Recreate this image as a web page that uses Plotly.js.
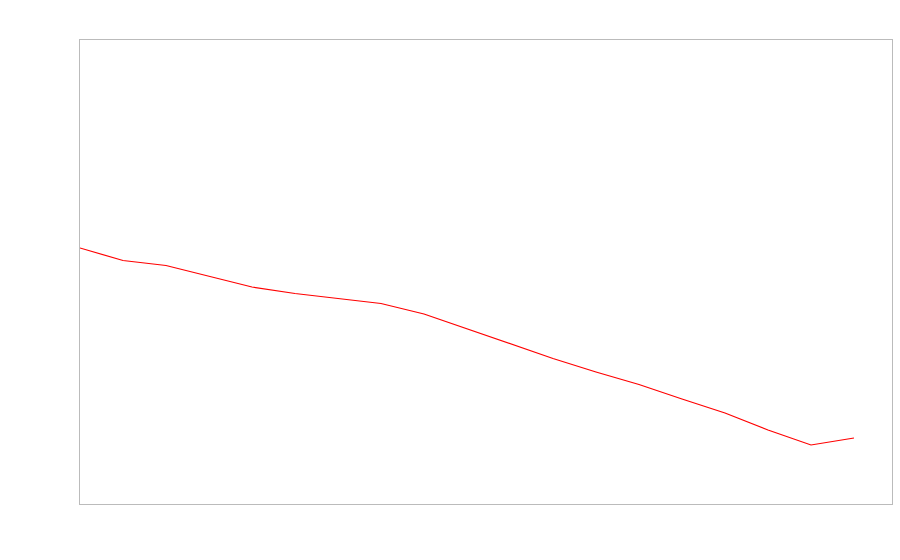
<!DOCTYPE html>
<html>
<head>
<meta charset="utf-8">
<script src="https://cdn.plot.ly/plotly-3.0.1.min.js"></script>
<style>html,body{margin:0;padding:0;background:#fff;}#chart{width:900px;height:560px;}</style>
</head>
<body>
<div id="chart"></div>
<script>
const xValues = [0, 1, 2, 3, 4, 5, 6, 7, 8, 9, 10, 11, 12, 13, 14, 15, 16, 17, 18];
const yValues = [256, 243.5, 238.5, 228, 217, 210.5, 205.5, 200.5, 190, 175, 160.5, 145.5, 132, 119.5, 105, 91, 74, 59, 66];

const trace = {
  x: xValues,
  y: yValues,
  type: 'scatter',
  mode: 'lines',
  line: {color: '#ff0000', width: 1.2},
  hoverinfo: 'skip'
};

const axisCommon = {
  showgrid: false,
  zeroline: false,
  showticklabels: false,
  ticks: '',
  showline: true,
  mirror: true,
  linecolor: '#bbbbbb',
  linewidth: 1
};

const layout = {
  width: 900,
  height: 560,
  margin: {l: 80, r: 8, t: 40, b: 56},
  paper_bgcolor: '#ffffff',
  plot_bgcolor: '#ffffff',
  showlegend: false,
  xaxis: Object.assign({range: [0, 18.884]}, axisCommon),
  yaxis: Object.assign({range: [0, 464]}, axisCommon)
};

Plotly.newPlot('chart', [trace], layout, {displayModeBar: false, staticPlot: true});
</script>
</body>
</html>
